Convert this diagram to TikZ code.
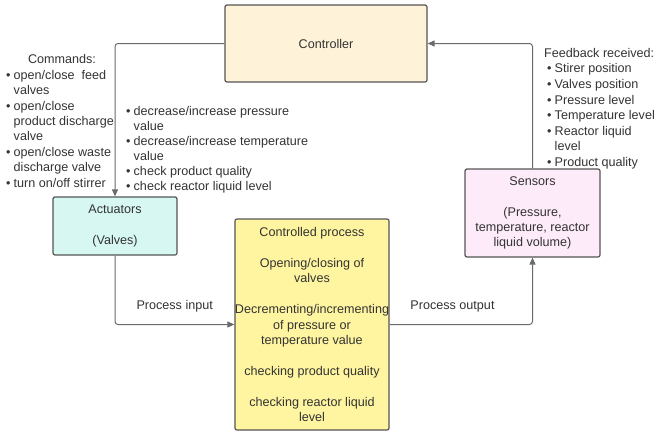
\documentclass[tikz,border=0pt]{standalone}
\usepackage{fontspec}
\setmainfont{Liberation Sans}
\usetikzlibrary{arrows.meta}

\definecolor{ctrlfill}{HTML}{FEF2D8}
\definecolor{actfill}{HTML}{D6F7F2}
\definecolor{procfill}{HTML}{FFF5A0}
\definecolor{sensfill}{HTML}{FDEBF9}
\definecolor{boxline}{HTML}{555555}
\definecolor{connline}{HTML}{6A6A6A}
\definecolor{txt}{HTML}{333333}

\newcommand{\bl}{\makebox[7.5pt][l]{•}}
\newcommand{\ind}{\hspace*{7.5pt}}

\begin{document}
\begin{tikzpicture}[x=1pt, y=-1pt,
        box/.style={draw=boxline, line width=1.2pt, rounded corners=2pt, align=center, text=txt,
                    inner sep=0pt, font=\fontsize{12.6}{15.4}\selectfont},
        note/.style={align=left, text=txt, inner sep=0pt, anchor=north west,
                     font=\fontsize{12.6}{15.4}\selectfont},
        conn/.style={draw=connline, line width=1pt, rounded corners=3pt,
                     -{Triangle[length=7pt, width=6pt]}}]
    \useasboundingbox (0, 0) rectangle (656, 431);

    % boxes
    \node[box, fill=ctrlfill, minimum width=202, minimum height=77] (ctrl) at (326, 43.5) {Controller};
    \node[box, fill=actfill, minimum width=124, minimum height=58] (act) at (115, 226) {Actuators\\~\\(Valves)};
    \node[box, fill=procfill, minimum width=154, minimum height=211] (proc) at (312, 324.5)
        {Controlled process\\~\\Opening/closing of\\valves\\~\\Decrementing/incrementing\\of pressure or\\temperature value\\~\\checking product quality\\~\\checking reactor liquid\\level};
    \node[box, fill=sensfill, minimum width=135, minimum height=88] (sens) at (532.5, 213)
        {Sensors\\~\\(Pressure,\\temperature, reactor\\liquid volume)};

    % notes
    \node[text=txt, inner sep=0pt, font=\fontsize{12.6}{15.4}\selectfont] (cmdhead) at (62, 59) {Commands:};
    \node[note] (cmdlist) at (6, 70)
        {\bl open/close\ \ feed\\\ind valves\\\bl open/close\\\ind product discharge\\\ind valve\\
         \bl open/close waste\\\ind discharge valve\\\bl turn on/off stirrer};
    \node[note, font=\fontsize{12.6}{15.1}\selectfont] (actlist) at (126, 106)
        {\bl decrease/increase pressure\\\ind value\\\bl decrease/increase temperature\\\ind value\\
         \bl check product quality\\\bl check reactor liquid level};
    \node[note, font=\fontsize{12.6}{15.6}\selectfont] (fblist) at (544, 48)
        {Feedback received:\\\hspace*{3pt}\bl Stirer position\\\hspace*{3pt}\bl Valves position\\\hspace*{3pt}\bl Pressure level\\
         \hspace*{3pt}\bl Temperature level\\\hspace*{3pt}\bl Reactor liquid\\\hspace*{3pt}\ind level\\\hspace*{3pt}\bl Product quality};

    % connectors
    \draw[conn] (ctrl.west) -| (act.north);
    \draw[conn] (act.south) |- (proc.west)
        node[pos=0.75, above=12pt, text=txt, inner sep=0pt, font=\fontsize{12.6}{15.4}\selectfont] (pin) {Process input};
    \draw[conn] (proc.east) -| (sens.south)
        node[pos=0.22, above=12pt, text=txt, inner sep=0pt, font=\fontsize{12.6}{15.4}\selectfont] (pout) {Process output};
    \draw[conn] (sens.north) |- (ctrl.east);
\end{tikzpicture}
\end{document}
